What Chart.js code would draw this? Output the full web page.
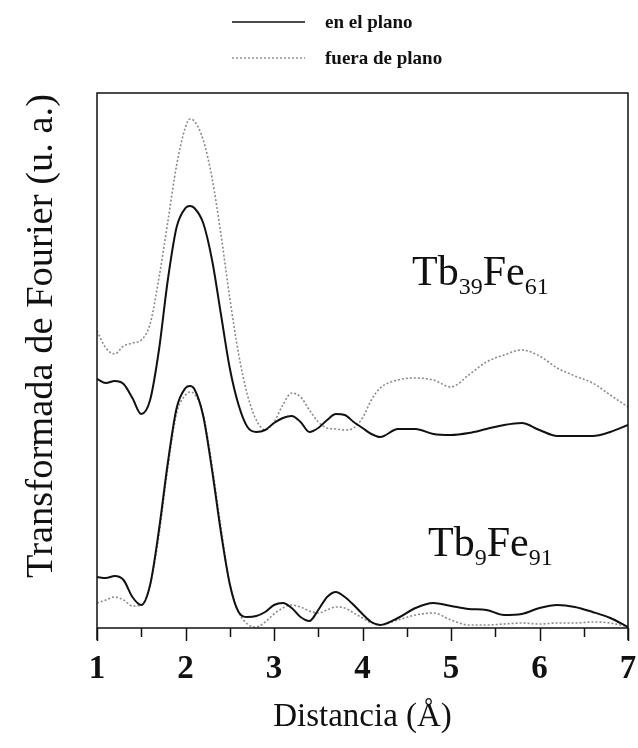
<!DOCTYPE html>
<html>
<head>
<meta charset="utf-8">
<title>Transformada de Fourier</title>
<script src="https://cdn.jsdelivr.net/npm/chart.js@4.4.1/dist/chart.umd.min.js"></script>
<style>
  html, body { margin: 0; padding: 0; background: #fff; }
  #wrap { width: 638px; height: 748px; position: relative; }
</style>
</head>
<body>
<div id="wrap"><canvas id="ftChart"></canvas></div>
<script>
// Distancia (Å), rejilla común para las cuatro curvas
const distancia = [1.0, 1.1, 1.2, 1.3, 1.4, 1.5, 1.6, 1.7, 1.8, 1.9, 2.0, 2.05, 2.1, 2.2, 2.3, 2.4,
  2.5, 2.6, 2.7, 2.8, 2.9, 3.0, 3.1, 3.2, 3.3, 3.4, 3.5, 3.6, 3.7, 3.8, 3.9, 4.0, 4.1, 4.2,
  4.4, 4.6, 4.8, 5.0, 5.2, 5.4, 5.6, 5.8, 6.0, 6.2, 6.4, 6.6, 6.8, 7.0];

// Tb39Fe61 (desplazada hacia arriba)
const tb39EnPlano = [2.49, 2.45, 2.47, 2.44, 2.30, 2.14, 2.28, 2.78, 3.48, 4.01, 4.20, 4.22, 4.20, 4.05, 3.68, 3.14,
  2.60, 2.23, 2.01, 1.96, 1.98, 2.05, 2.10, 2.12, 2.06, 1.96, 2.00, 2.08, 2.14, 2.13, 2.06, 2.00, 1.94, 1.91,
  1.99, 1.99, 1.94, 1.93, 1.95, 1.99, 2.03, 2.05, 1.98, 1.92, 1.92, 1.92, 1.96, 2.03];
const tb39FueraPlano = [2.97, 2.80, 2.74, 2.82, 2.85, 2.88, 3.04, 3.50, 4.06, 4.63, 5.01, 5.09, 5.07, 4.88, 4.50, 3.94,
  3.30, 2.74, 2.33, 2.08, 1.98, 2.06, 2.23, 2.35, 2.31, 2.18, 2.06, 2.00, 1.99, 1.98, 2.00, 2.10, 2.28, 2.40,
  2.48, 2.50, 2.48, 2.41, 2.53, 2.66, 2.73, 2.78, 2.72, 2.60, 2.52, 2.45, 2.33, 2.21];

// Tb9Fe91
const tb9EnPlano = [0.51, 0.50, 0.52, 0.48, 0.31, 0.23, 0.43, 0.98, 1.65, 2.20, 2.40, 2.42, 2.39, 2.12, 1.58, 0.96,
  0.44, 0.16, 0.11, 0.12, 0.16, 0.23, 0.25, 0.20, 0.11, 0.07, 0.18, 0.31, 0.36, 0.31, 0.23, 0.14, 0.06, 0.03,
  0.10, 0.20, 0.25, 0.22, 0.19, 0.18, 0.13, 0.14, 0.20, 0.23, 0.21, 0.16, 0.10, 0.01];
const tb9FueraPlano = [0.25, 0.28, 0.31, 0.28, 0.22, 0.23, 0.43, 0.93, 1.60, 2.15, 2.33, 2.36, 2.34, 2.14, 1.62, 1.01,
  0.44, 0.16, 0.04, 0.01, 0.06, 0.14, 0.20, 0.23, 0.21, 0.17, 0.15, 0.18, 0.21, 0.20, 0.15, 0.10, 0.05, 0.03,
  0.08, 0.13, 0.15, 0.08, 0.03, 0.03, 0.04, 0.05, 0.04, 0.05, 0.05, 0.06, 0.05, 0.01];

const xTicks = [1, 2, 3, 4, 5, 6, 7];
const leyenda = ['en el plano', 'fuera de plano'];

const SERIF = '"Liberation Serif", "Times New Roman", serif';

function puntos(ys) {
  return distancia.map((x, i) => ({ x: x, y: ys[i] }));
}

const estiloPlano = { borderColor: '#111', borderWidth: 2, borderDash: [] };
const estiloFuera = { borderColor: '#8a8a8a', borderWidth: 1.6, borderDash: [2, 2] };

// Marco, marcas del eje, rótulos, leyenda y nombres de las muestras
const decoraciones = {
  id: 'decoraciones',
  afterDraw(chart) {
    const { ctx, chartArea: a, scales } = chart;
    const sx = scales.x;
    ctx.save();

    // marco
    ctx.strokeStyle = '#111';
    ctx.lineWidth = 1.5;
    ctx.beginPath();
    ctx.moveTo(a.left, a.bottom + 12);
    ctx.lineTo(a.left, a.top);
    ctx.lineTo(a.right, a.top);
    ctx.lineTo(a.right, a.bottom + 12);
    ctx.moveTo(a.left, a.bottom);
    ctx.lineTo(a.right, a.bottom);
    ctx.stroke();

    // marcas hacia abajo: enteras y medias
    for (let v = 1; v <= 7.001; v += 0.5) {
      const px = Math.round(sx.getPixelForValue(v)) + 0.5;
      const mayor = Math.abs(v - Math.round(v)) < 1e-6;
      ctx.beginPath();
      ctx.moveTo(px, a.bottom);
      ctx.lineTo(px, a.bottom + (mayor ? 13 : 9));
      ctx.stroke();
    }

    // números del eje x
    ctx.fillStyle = '#111';
    ctx.font = 'bold 33px ' + SERIF;
    ctx.textAlign = 'center';
    ctx.textBaseline = 'middle';
    xTicks.forEach(t => ctx.fillText(String(t), sx.getPixelForValue(t), a.bottom + 41));

    // título del eje x
    ctx.font = '33px ' + SERIF;
    ctx.fillText('Distancia (Å)', (a.left + a.right) / 2, a.bottom + 89);

    // título del eje y
    ctx.save();
    ctx.translate(42, 336);
    ctx.rotate(-Math.PI / 2);
    ctx.font = '38.5px ' + SERIF;
    ctx.fillText('Transformada de Fourier (u. a.)', 0, 0);
    ctx.restore();

    // leyenda
    const estilos = [estiloPlano, estiloFuera];
    const filas = [22, 58];
    ctx.textAlign = 'left';
    ctx.font = 'bold 19px ' + SERIF;
    leyenda.forEach((txt, i) => {
      const st = estilos[i];
      ctx.strokeStyle = st.borderColor;
      ctx.lineWidth = i === 0 ? 1.6 : 1.4;
      ctx.setLineDash(st.borderDash);
      ctx.beginPath();
      ctx.moveTo(232, filas[i]);
      ctx.lineTo(305, filas[i]);
      ctx.stroke();
      ctx.setLineDash([]);
      ctx.fillStyle = '#111';
      ctx.fillText(txt, 325, filas[i] + 1);
    });

    // nombres de las aleaciones con subíndices
    function formula(partes, x0, y0) {
      let x = x0;
      ctx.textBaseline = 'alphabetic';
      partes.forEach(([txt, sub]) => {
        ctx.font = (sub ? '24px ' : '42px ') + SERIF;
        ctx.fillText(txt, x, y0 + (sub ? 9 : 0));
        x += ctx.measureText(txt).width;
      });
    }
    ctx.fillStyle = '#111';
    formula([['Tb', false], ['39', true], ['Fe', false], ['61', true]], 412, 285);
    formula([['Tb', false], ['9', true], ['Fe', false], ['91', true]], 428, 556);

    ctx.restore();
  }
};

new Chart(document.getElementById('ftChart').getContext('2d'), {
  type: 'line',
  data: {
    datasets: [
      Object.assign({ label: leyenda[0], data: puntos(tb39EnPlano) }, estiloPlano),
      Object.assign({ label: leyenda[1], data: puntos(tb39FueraPlano) }, estiloFuera),
      Object.assign({ label: leyenda[0], data: puntos(tb9EnPlano) }, estiloPlano),
      Object.assign({ label: leyenda[1], data: puntos(tb9FueraPlano) }, estiloFuera)
    ]
  },
  options: {
    responsive: true,
    maintainAspectRatio: false,
    animation: false,
    layout: { padding: { left: 97, right: 10, top: 93, bottom: 120 } },
    elements: {
      point: { radius: 0 },
      line: { tension: 0.4, cubicInterpolationMode: 'monotone', fill: false }
    },
    plugins: { legend: { display: false }, tooltip: { enabled: false } },
    scales: {
      x: { type: 'linear', min: 1, max: 7, display: false },
      y: { min: 0, max: 5.35, display: false }
    }
  },
  plugins: [decoraciones]
});
</script>
</body>
</html>
